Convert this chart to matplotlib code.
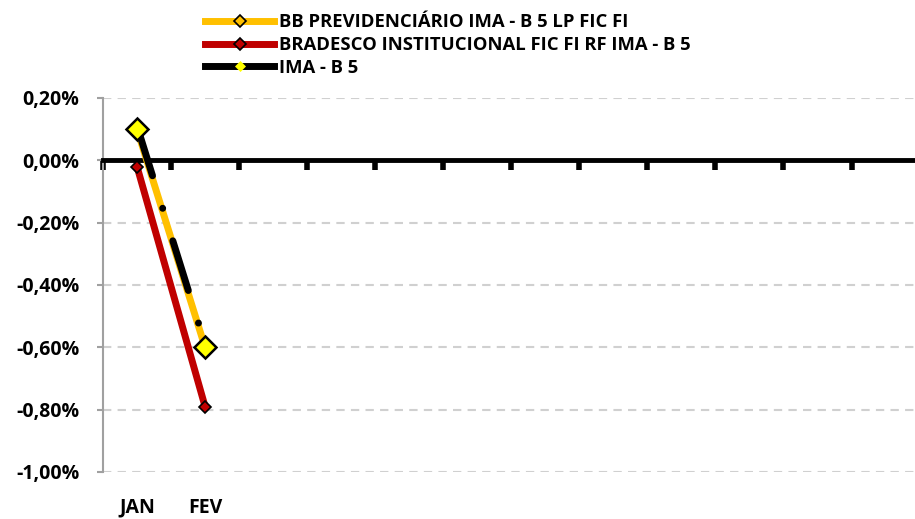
import matplotlib
matplotlib.use("Agg")
import matplotlib.pyplot as plt
from matplotlib.lines import Line2D
from matplotlib.ticker import FuncFormatter, MultipleLocator

# dados (rentabilidade mensal em %)
meses = ["JAN", "FEV", "", "", "", "", "", "", "", "", "", ""]
bb_prev = [0.10, -0.60]
bradesco = [-0.02, -0.79]
ima_b5 = [0.11, -0.59]

nomes = ["BB PREVIDENCIÁRIO IMA - B 5 LP FIC FI",
         "BRADESCO INSTITUCIONAL FIC FI RF IMA - B 5",
         "IMA - B 5"]

plt.rcParams['font.family'] = ['Open Sans', 'DejaVu Sans']
plt.rcParams['font.weight'] = 'bold'

fig = plt.figure(figsize=(9.15, 5.19), dpi=100)
ax = fig.add_axes([103/915, 1-472/519, 1-103/915+0.005, (472-98)/519])

x = list(range(len(bb_prev)))

# linhas
ax.plot(x, bb_prev, color="#FFC000", lw=5, zorder=3, solid_capstyle="round")
ax.plot(x, bradesco, color="#C00000", lw=5, zorder=2.8, solid_capstyle="round",
        marker="D", ms=6.5, mfc="#C00000", mec="black", mew=1.2)
ax.plot(x, ima_b5, color="black", lw=5, zorder=4, dash_capstyle="round",
        linestyle=(0, (7.5, 4.9, 0.01, 4.9)))
# marcadores do BB por cima
ax.plot(x, bb_prev, linestyle="none", marker="D", ms=11.5, mfc="#FFFF00",
        mec="black", mew=1.8, zorder=5)

ax.set_ylim(-1.0, 0.2)
ax.set_xlim(-0.5, 11.44)
ax.yaxis.set_major_locator(MultipleLocator(0.2))
ax.yaxis.set_major_formatter(FuncFormatter(lambda v, p: ("%.2f%%" % v).replace(".", ",").replace("-0,00", "0,00")))

ax.set_axisbelow(True)
ax.grid(axis="y", color="#d0d0d0", linestyle=(0, (4, 3)), lw=1.5)

# eixos
ax.spines["right"].set_visible(False)
ax.spines["bottom"].set_visible(False)
ax.spines["left"].set_color("#a0a0a0")
ax.spines["left"].set_linewidth(1.5)
ax.spines["top"].set_position(("data", 0))
ax.spines["top"].set_linewidth(3.5)
ax.spines["top"].set_color("black")
ax.spines["top"].set_zorder(2.5)

ax.set_xticks(range(len(meses)))
ax.set_xticklabels(meses, fontweight="bold")
ax.set_xticks([i - 0.5 for i in range(len(meses) + 1)], minor=True)
ax.tick_params(axis="x", which="major", bottom=False, top=False,
               labelbottom=True, labelsize=14, pad=15)
ax.tick_params(axis="x", which="minor", bottom=False, top=True,
               direction="in", length=7, width=4, color="black")
ax.tick_params(axis="y", which="major", left=True, length=4, width=1.5,
               color="#a0a0a0", labelsize=14, pad=13)
for t in ax.get_yticklabels():
    t.set_fontweight("bold")

# legenda
handles = [
    Line2D([], [], color="#FFC000", lw=5, marker="D", ms=6, mfc="#FFC000", mec="black", mew=1.2),
    Line2D([], [], color="#C00000", lw=5, marker="D", ms=6, mfc="#C00000", mec="black", mew=1.2),
    Line2D([], [], color="black", lw=5, marker="D", ms=5, mfc="#FFFF00", mec="#FFFF00", mew=0.5),
]
fig.legend(handles, nomes, loc="upper left", bbox_to_anchor=(198/915, 1-6/519),
           frameon=False, handlelength=3.7, handletextpad=0.3,
           labelspacing=0.25, borderaxespad=0,
           prop={"family": ["Open Sans", "DejaVu Sans"], "weight": "bold", "size": 13.3})

fig.savefig("out.png", dpi=100)
